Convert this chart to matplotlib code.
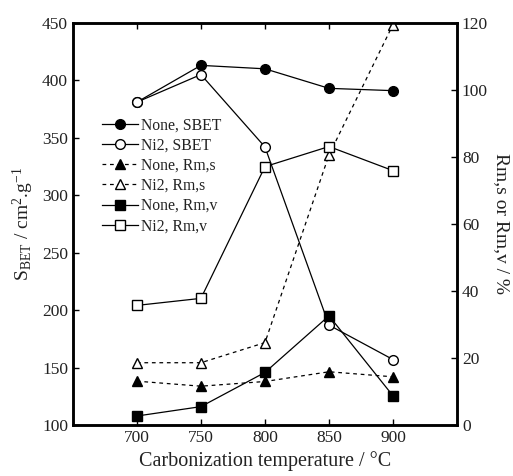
import matplotlib
matplotlib.use("Agg")
import matplotlib.pyplot as plt

plt.rcParams['font.family'] = ['Liberation Serif', 'DejaVu Serif']
plt.rcParams['mathtext.fontset'] = 'custom'
plt.rcParams['mathtext.rm'] = 'Liberation Serif'
plt.rcParams['mathtext.it'] = 'Liberation Serif:italic'

temps = [700, 750, 800, 850, 900]
none_sbet = [381, 413, 410, 393, 391]
ni2_sbet = [381, 405, 342, 187, 157]
none_rms = [13.1, 11.6, 13.0, 15.9, 14.4]
ni2_rms = [18.6, 18.6, 24.6, 80.6, 119.5]
none_rmv = [2.7, 5.5, 15.7, 32.6, 8.7]
ni2_rmv = [35.7, 37.8, 77.1, 83.1, 75.9]

fig = plt.figure(figsize=(5.13, 4.76), dpi=100)
ax = fig.add_axes([0.142, 0.107, 0.749, 0.845])
ax2 = ax.twinx()

ms = 7
lw = 0.9
txt = '#222222'
h1, = ax.plot(temps, none_sbet, '-', color='k', lw=lw, marker='o', ms=ms, mfc='k', mec='k', label='None, SBET', zorder=3)
h2, = ax.plot(temps, ni2_sbet, '-', color='k', lw=lw, marker='o', ms=ms, mfc='white', mec='k', label='Ni2, SBET', zorder=4)
h3, = ax2.plot(temps, none_rms, '--', color='k', lw=lw, dashes=(3, 3), marker='^', ms=ms, mfc='k', mec='k', label='None, Rm,s')
h4, = ax2.plot(temps, ni2_rms, '--', color='k', lw=lw, dashes=(3, 3), marker='^', ms=ms, mfc='white', mec='k', label='Ni2, Rm,s')
h5, = ax2.plot(temps, none_rmv, '-', color='k', lw=lw, marker='s', ms=ms, mfc='k', mec='k', label='None, Rm,v')
h6, = ax2.plot(temps, ni2_rmv, '-', color='k', lw=lw, marker='s', ms=ms, mfc='white', mec='k', label='Ni2, Rm,v')

ax.set_xlim(650, 950)
ax.set_ylim(100, 450)
ax2.set_ylim(0, 120)
ax.set_xticks(temps)
ax.set_yticks([100, 150, 200, 250, 300, 350, 400, 450])
ax2.set_yticks([0, 20, 40, 60, 80, 100, 120])

for a in (ax, ax2):
    for s in a.spines.values():
        s.set_linewidth(1.8)
ax.tick_params(axis='both', direction='in', length=4, width=1, labelsize=12.5, top=True, labelcolor=txt)
ax2.tick_params(axis='y', direction='in', length=4, width=1, labelsize=12.5, labelcolor=txt)

ax.set_xlabel('Carbonization temperature / °C', fontsize=14.5, labelpad=4, color=txt)
ax.set_ylabel(r'S$_{\mathrm{BET}}$ / cm$^{2}$.g$^{-1}$', fontsize=14, labelpad=4, color=txt)
ax2.set_ylabel('Rm,s or Rm,v / %', fontsize=14, rotation=-90, labelpad=16, color=txt)

leg = ax.legend(handles=[h1, h2, h3, h4, h5, h6], loc='upper left',
                bbox_to_anchor=(0.055, 0.785), frameon=False, fontsize=11.3,
                handlelength=2.3, handletextpad=0.2, labelspacing=0.27, borderpad=0)
for t in leg.get_texts():
    t.set_color(txt)

fig.savefig('out.png', dpi=100)
